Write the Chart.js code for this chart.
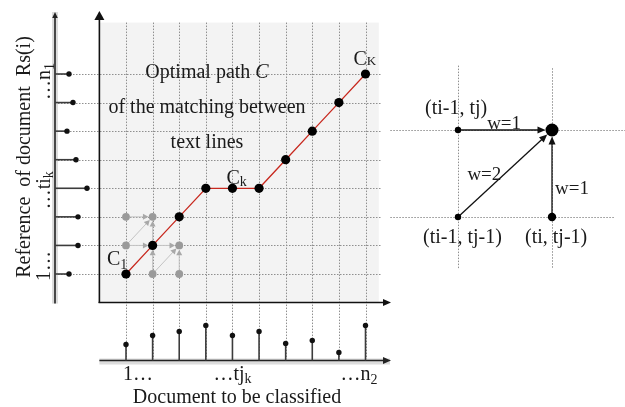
<!DOCTYPE html>
<html>
<head>
<meta charset="utf-8">
<script src="https://cdn.jsdelivr.net/npm/chart.js@4/dist/chart.umd.min.js"></script>
<style>
  html, body { margin: 0; padding: 0; background: #fff; }
  #c { display: block; }
</style>
</head>
<body>
<canvas id="c" width="625" height="407"></canvas>
<script>
// Text lines of the document to classify (columns) and of the reference (rows)
const docLines = [1, 2, 3, 4, 5, 6, 7, 8, 9, 10];
const refLines = [1, 2, 3, 4, 5, 6, 7, 8];
// Optimal warping path: reference line matched with each document line
const pathRows = [1, 2, 3, 4, 4, 4, 5, 6, 7, 8];
// Candidate cells explored around the first steps
const candCols = [1, 1, 2, 2, 3, 3];
const candRows = [2, 3, 1, 3, 1, 2];
// Candidate transitions: [fromCol, fromRow, toCol, toRow]
const candMoves = [
  [1, 3, 2, 3], [1, 2, 2, 3], [2, 2, 2, 3],
  [1, 2, 2, 2], [2, 1, 2, 2],
  [2, 2, 3, 2], [2, 1, 3, 2], [3, 1, 3, 2]
];
// Feature value of each reference line (left) and document line (bottom)
const refFeature = [1.4, 2.3, 2.3, 3.2, 2.1, 1.2, 1.8, 1.4];
const docFeature = [1.6, 2.5, 2.9, 3.5, 2.5, 2.9, 1.7, 2.0, 0.8, 3.5];
// Local step pattern: cells (i, j) with i in {ti-1, ti}, j in {tj-1, tj}
const stepI = [0, 1, 0, 1];
const stepJ = [1, 1, 0, 0];
const stepNames = ['(ti-1, tj)', '', '(ti-1, tj-1)', '(ti, tj-1)'];
// Allowed moves into (ti, tj) and their weights
const stepMoves = [[0, 1], [0, 0], [1, 0]];
const stepWeights = ['w=1', 'w=2', 'w=1'];

const SERIF = "'Liberation Serif', 'Times New Roman', serif";

// Linear limits so that value v0 lands on pixel p0 and v1 on p1 over a span of `size` px
function fit(v0, p0, v1, p1, size) {
  const k = (p1 - p0) / (v1 - v0);
  const a = v0 - p0 / k, b = v0 + (size - p0) / k;
  return { min: Math.min(a, b), max: Math.max(a, b) };
}
function hidden(axis, lim) {
  return Object.assign({ type: 'linear', axis, display: false, bounds: 'data' }, lim);
}

function arrow(ctx, x1, y1, x2, y2, o) {
  const dx = x2 - x1, dy = y2 - y1, L = Math.hypot(dx, dy);
  const ux = dx / L, uy = dy / L;
  const sx = x1 + ux * (o.gap0 || 0), sy = y1 + uy * (o.gap0 || 0);
  const ex = x2 - ux * (o.gap1 || 0), ey = y2 - uy * (o.gap1 || 0);
  const bx = ex - ux * o.head, by = ey - uy * o.head;
  ctx.save();
  ctx.strokeStyle = o.color; ctx.lineWidth = o.width; ctx.setLineDash([]);
  ctx.beginPath(); ctx.moveTo(sx, sy); ctx.lineTo(bx + ux, by + uy); ctx.stroke();
  ctx.fillStyle = o.headColor || o.color;
  ctx.beginPath();
  ctx.moveTo(ex, ey);
  ctx.lineTo(bx - uy * o.half, by + ux * o.half);
  ctx.lineTo(bx + uy * o.half, by - ux * o.half);
  ctx.closePath(); ctx.fill();
  ctx.restore();
}

// Text made of runs: {t, size, dy, italic}
function rich(ctx, runs, x, y, align) {
  const f = r => (r.italic ? 'italic ' : '') + r.size + 'px ' + SERIF;
  let w = 0;
  runs.forEach(r => { ctx.font = f(r); w += ctx.measureText(r.t).width; });
  let cx = align === 'center' ? x - w / 2 : align === 'right' ? x - w : x;
  ctx.textAlign = 'left'; ctx.textBaseline = 'alphabetic';
  runs.forEach(r => {
    ctx.font = f(r);
    ctx.fillText(r.t, cx, y + (r.dy || 0));
    cx += ctx.measureText(r.t).width;
  });
}
const T = (t, size = 20, dy = 0, italic = false) => ({ t, size, dy, italic });

const sketch = {
  id: 'sketch',
  beforeDatasetsDraw(chart) {
    const { ctx } = chart, s = chart.scales;
    const X = v => s.x.getPixelForValue(v), Y = v => s.y.getPixelForValue(v);
    const xl0 = s.xl.getPixelForValue(0), yb0 = s.yb.getPixelForValue(0);
    const R = v => s.xr.getPixelForValue(v), U = v => s.yr.getPixelForValue(v);

    ctx.save();
    // matching grid background
    ctx.fillStyle = '#f3f3f3';
    ctx.fillRect(X(0), Y(9.8), X(10.5) - X(0), Y(0) - Y(9.8));

    // dotted guides of the grid
    ctx.strokeStyle = '#8f8f8f'; ctx.lineWidth = 1; ctx.setLineDash([1.5, 1.5]);
    refLines.forEach(r => {
      ctx.beginPath(); ctx.moveTo(xl0, Math.round(Y(r)) + 0.5); ctx.lineTo(X(10.6), Math.round(Y(r)) + 0.5); ctx.stroke();
    });
    docLines.forEach(c => {
      ctx.beginPath(); ctx.moveTo(Math.round(X(c)) + 0.5, Y(9.8)); ctx.lineTo(Math.round(X(c)) + 0.5, yb0); ctx.stroke();
    });
    // dotted guides of the step pattern
    [0, 1].forEach(j => {
      ctx.beginPath(); ctx.moveTo(R(-0.72), Math.round(U(j)) + 0.5); ctx.lineTo(R(j ? 1.8 : 1.67), Math.round(U(j)) + 0.5); ctx.stroke();
    });
    [0, 1].forEach(i => {
      ctx.beginPath(); ctx.moveTo(Math.round(R(i)) + 0.5, U(i ? 1.71 : 1.74)); ctx.lineTo(Math.round(R(i)) + 0.5, U(-0.6)); ctx.stroke();
    });
    ctx.setLineDash([]);

    // feature axes with light bands
    ctx.fillStyle = '#dcdcdc';
    ctx.fillRect(xl0 - 3, 12, 6, Y(0) + 1 - 12);
    ctx.fillRect(X(0), yb0 - 2, 390 - X(0), 6);
    arrow(ctx, xl0, Y(0) + 1, xl0, 12, { color: '#222', width: 1.6, head: 6, half: 2.8 });
    arrow(ctx, X(0), yb0, 391, yb0, { color: '#222', width: 1.6, head: 8, half: 3.5 });
    // main axes
    arrow(ctx, X(0), Y(0) + 0.5, X(0), 11, { color: '#111', width: 1.6, head: 9, half: 5 });
    arrow(ctx, X(0) - 0.8, Y(0), 391, Y(0), { color: '#111', width: 1.6, head: 8, half: 3.5 });

    // candidate transitions
    candMoves.forEach(m => {
      arrow(ctx, X(m[0]), Y(m[1]), X(m[2]), Y(m[3]),
        { gap0: 4, gap1: 4.2, color: '#c4c4c4', headColor: '#a8a8a8', width: 1, head: 5.5, half: 3 });
    });
    // step pattern moves
    stepMoves.forEach(m => {
      arrow(ctx, R(m[0]), U(m[1]), R(1), U(1),
        { gap0: 3, gap1: 6.5, color: '#111', width: 1.3, head: 8, half: 3.5 });
    });
    ctx.restore();
  },
  afterDatasetsDraw(chart) {
    const { ctx } = chart, s = chart.scales;
    const X = v => s.x.getPixelForValue(v), Y = v => s.y.getPixelForValue(v);
    const R = v => s.xr.getPixelForValue(v), U = v => s.yr.getPixelForValue(v);
    ctx.save();
    ctx.fillStyle = '#1a1a1a';

    // path caption
    rich(ctx, [T('Optimal path '), T('C', 20, 0, true)], 207, 78, 'center');
    rich(ctx, [T('of the matching between')], 207, 113, 'center');
    rich(ctx, [T('text lines')], 207, 148, 'center');

    // path point names
    const last = docLines.length - 1;
    rich(ctx, [T('C'), T('1', 14, 4)], X(docLines[0]) - 19, Y(pathRows[0]) - 9, 'left');
    rich(ctx, [T('C'), T('k', 14, 2)], X(docLines[4]) - 6, Y(pathRows[4]) - 4, 'left');
    rich(ctx, [T('C'), T('K', 13, 0)], X(docLines[last]) - 12, Y(pathRows[last]) - 9, 'left');

    // document axis labels
    rich(ctx, [T('1…')], X(1) - 3, 380, 'left');
    rich(ctx, [T('…tj'), T('k', 14, 3)], X(5), 380, 'center');
    rich(ctx, [T('…n'), T('2', 14, 4)], X(10) + 12, 380, 'right');
    rich(ctx, [T('Document to be classified')], 237, 403, 'center');

    // reference axis labels (rotated)
    ctx.save();
    ctx.translate(30, 157); ctx.rotate(-Math.PI / 2);
    rich(ctx, [T('Reference  of document  Rs(i)')], 0, 0, 'center');
    ctx.restore();
    ctx.save();
    ctx.translate(50, 0); ctx.rotate(-Math.PI / 2);
    rich(ctx, [T('1…')], -(Y(1) + 7), 0, 'left');
    rich(ctx, [T('…ti'), T('k', 14, 3)], -(Y(4) + 2), 0, 'center');
    rich(ctx, [T('…n'), T('1', 14, 4)], -(Y(8) + 26), 0, 'left');
    ctx.restore();

    // step pattern labels
    rich(ctx, [T(stepNames[0])], R(0) - 33, U(1) - 16, 'left');
    rich(ctx, [T(stepNames[2])], R(0) - 35, U(0) + 26, 'left');
    rich(ctx, [T(stepNames[3])], R(1) - 27, U(0) + 26, 'left');
    rich(ctx, [T(stepWeights[0], 19)], R(0.31), U(1) - 1, 'left');
    rich(ctx, [T(stepWeights[1], 19)], R(0.1), U(0.5) + 6, 'left');
    rich(ctx, [T(stepWeights[2], 19)], R(1) + 3, U(0.35) + 7, 'left');
    ctx.restore();
  }
};

const datasets = [];
// optimal path
datasets.push({
  xAxisID: 'x', yAxisID: 'y', order: 0, showLine: true,
  data: docLines.map((c, i) => ({ x: c, y: pathRows[i] })),
  borderColor: '#c8281e', borderWidth: 1.3,
  pointRadius: 4.6, pointBackgroundColor: '#000', pointBorderColor: '#000', pointBorderWidth: 0
});
// candidate cells
datasets.push({
  xAxisID: 'x', yAxisID: 'y', order: 1, showLine: false,
  data: candCols.map((c, i) => ({ x: c, y: candRows[i] })),
  pointRadius: 3.9, pointBackgroundColor: '#9a9a9a', pointBorderColor: '#9a9a9a', pointBorderWidth: 0
});
// step pattern cells
datasets.push({
  xAxisID: 'xr', yAxisID: 'yr', order: 1, showLine: false,
  data: stepI.map((v, i) => ({ x: v, y: stepJ[i] })),
  pointRadius: [3.2, 6.5, 3.2, 4.2], pointBackgroundColor: '#000', pointBorderColor: '#000', pointBorderWidth: 0
});
// reference line features
refLines.forEach((r, i) => datasets.push({
  xAxisID: 'xl', yAxisID: 'y', order: 2, showLine: true,
  data: [{ x: 0, y: r }, { x: refFeature[i], y: r }],
  borderColor: '#3c3c3c', borderWidth: 1.6,
  pointRadius: [0, 2.7], pointBackgroundColor: '#111', pointBorderColor: '#111', pointBorderWidth: 0
}));
// document line features
docLines.forEach((c, i) => datasets.push({
  xAxisID: 'x', yAxisID: 'yb', order: 2, showLine: true,
  data: [{ x: c, y: 0 }, { x: c, y: docFeature[i] }],
  borderColor: '#3c3c3c', borderWidth: 1.6,
  pointRadius: [0, 2.7], pointBackgroundColor: '#111', pointBorderColor: '#111', pointBorderWidth: 0
}));

new Chart(document.getElementById('c'), {
  type: 'scatter',
  data: { datasets },
  options: {
    responsive: false, animation: false, events: [],
    devicePixelRatio: 1,
    layout: { padding: 0, autoPadding: false },
    plugins: { legend: { display: false }, tooltip: { enabled: false } },
    scales: {
      x: hidden('x', fit(1, 126, 10, 365.5, 625)),
      y: hidden('y', fit(1, 274, 8, 74, 407)),
      xl: hidden('x', fit(0, 55, 1, 65, 625)),
      yb: hidden('y', fit(0, 360.5, 1, 350.5, 407)),
      xr: hidden('x', fit(0, 458, 1, 552, 625)),
      yr: hidden('y', fit(0, 217, 1, 130, 407))
    }
  },
  plugins: [sketch]
});
</script>
</body>
</html>
